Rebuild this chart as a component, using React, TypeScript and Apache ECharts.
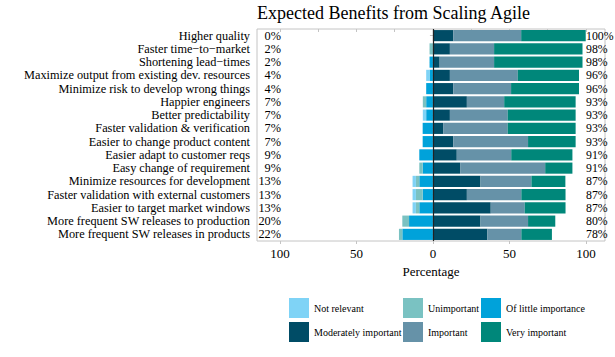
import React, { useEffect, useRef } from 'react';
import * as echarts from 'echarts';

const categories = [
  'Higher quality',
  'Faster time\u2212to\u2212market',
  'Shortening lead\u2212times',
  'Maximize output from existing dev. resources',
  'Minimize risk to develop wrong things',
  'Happier engineers',
  'Better predictability',
  'Faster validation & verification',
  'Easier to change product content',
  'Easier adapt to customer reqs',
  'Easy change of requirement',
  'Minimize resources for development',
  'Faster validation with external customers',
  'Easier to target market windows',
  'More frequent SW releases to production',
  'More frequent SW releases in products',
];

const notRelevant = [0, 0, 0, 2.2, 0, 0, 2.2, 0, 0, 0, 0, 2.2, 2.2, 2.2, 0, 0];
const unimportant = [0, 2.2, 0, 0, 0, 2.2, 0, 0, 0, 0, 2.2, 2.2, 4.4, 2.2, 4.4, 2.2];
const littleImportance = [0, 0, 2.2, 2.2, 4.4, 4.4, 4.4, 6.7, 6.7, 8.9, 6.7, 8.9, 6.7, 8.9, 15.6, 20.0];
const moderatelyImportant = [13.3, 11.1, 4.4, 11.1, 13.3, 22.2, 11.1, 6.7, 13.3, 15.6, 17.8, 31.1, 22.2, 37.8, 31.1, 35.6];
const important = [44.4, 28.9, 35.6, 44.4, 37.8, 24.4, 37.8, 42.2, 48.9, 35.6, 55.6, 33.3, 35.6, 22.2, 31.1, 22.2];
const veryImportant = [42.2, 57.8, 57.8, 40.0, 44.4, 46.7, 44.4, 44.4, 31.1, 40.0, 17.8, 22.2, 28.9, 26.7, 17.8, 20.0];

const leftLabels = ['0%', '2%', '2%', '4%', '4%', '7%', '7%', '7%', '7%', '9%', '9%', '13%', '13%', '13%', '20%', '22%'];
const rightLabels = ['100%', '98%', '98%', '96%', '96%', '93%', '93%', '93%', '93%', '91%', '91%', '87%', '87%', '87%', '80%', '78%'];

const xTicks = [-100, -50, 0, 50, 100];
const topTicks = [-100, -75, -50, -25, 25, 50, 75, 100];

const FONT = "'Liberation Serif', 'DejaVu Serif', serif";

const colors = {
  notRelevant: '#7FD3F6',
  unimportant: '#7AC2C2',
  littleImportance: '#00A2DA',
  moderatelyImportant: '#004C66',
  important: '#6692A8',
  veryImportant: '#00877A',
};

function buildOption() {
  const neg = (a: number[]) => a.map((v) => -v);
  const barCommon = {
    type: 'bar' as const,
    stack: 'total',
    barCategoryGap: '16%',
    xAxisIndex: 0,
    yAxisIndex: 0,
  };
  const legendCommon = {
    orient: 'vertical',
    top: 298,
    padding: 0,
    itemWidth: 20,
    itemHeight: 20,
    itemGap: 4,
    icon: 'rect',
    textStyle: { fontFamily: FONT, fontSize: 10, color: '#000' },
  };
  return {
    animation: false,
    backgroundColor: '#ffffff',
    textStyle: { fontFamily: FONT, color: '#000' },
    title: {
      text: 'Expected Benefits from Scaling Agile',
      left: 257,
      top: 4,
      padding: 0,
      textStyle: { fontFamily: FONT, fontSize: 18, fontWeight: 'normal', color: '#000' },
    },
    grid: {
      left: 257,
      top: 29,
      width: 348,
      height: 212,
      outerBoundsMode: 'none',
      containLabel: false,
      show: true,
      borderColor: '#c4c4c4',
      borderWidth: 1,
      backgroundColor: 'transparent',
    },
    legend: [
      { ...legendCommon, left: 289, data: ['Not relevant', 'Moderately important'] },
      { ...legendCommon, left: 403, data: ['Unimportant', 'Important'] },
      { ...legendCommon, left: 481, data: ['Of little importance', 'Very important'] },
    ],
    xAxis: [
      {
        type: 'value',
        min: -115,
        max: 112.5,
        position: 'bottom',
        name: 'Percentage',
        nameLocation: 'middle',
        nameGap: 23,
        nameTextStyle: { fontFamily: FONT, fontSize: 13, color: '#000' },
        axisLine: { show: false },
        axisTick: { show: true, length: 3, lineStyle: { color: '#c4c4c4' }, customValues: xTicks },
        axisLabel: {
          customValues: xTicks,
          fontFamily: FONT,
          fontSize: 13,
          color: '#000',
          margin: 6,
          formatter: (v: number) => String(Math.abs(v)),
        },
        splitLine: { show: false },
      },
      {
        type: 'value',
        min: -115,
        max: 112.5,
        position: 'top',
        axisLine: { show: false },
        axisTick: { show: true, inside: true, length: 3, lineStyle: { color: '#c4c4c4' }, customValues: topTicks },
        axisLabel: { show: false },
        splitLine: { show: false },
      },
    ],
    yAxis: [
      {
        type: 'category',
        data: categories,
        inverse: true,
        position: 'left',
        axisLine: { show: false },
        axisTick: { show: true, length: 3, alignWithLabel: true, lineStyle: { color: '#c4c4c4' } },
        axisLabel: { interval: 0, fontFamily: FONT, fontSize: 12.3, color: '#000', margin: 7 },
        splitLine: { show: false },
      },
      {
        type: 'category',
        data: leftLabels,
        inverse: true,
        position: 'left',
        offset: -24,
        axisLine: { show: false },
        axisTick: { show: false },
        axisLabel: { interval: 0, fontFamily: FONT, fontSize: 12.3, color: '#000', margin: 0 },
        splitLine: { show: false },
      },
      {
        type: 'category',
        data: rightLabels,
        inverse: true,
        position: 'right',
        offset: -19,
        axisLine: { show: false },
        axisTick: { show: false },
        axisLabel: { interval: 0, fontFamily: FONT, fontSize: 11.8, color: '#000', margin: 0 },
        splitLine: { show: false },
      },
    ],
    series: [
      { ...barCommon, name: 'Of little importance', data: neg(littleImportance), itemStyle: { color: colors.littleImportance } },
      { ...barCommon, name: 'Unimportant', data: neg(unimportant), itemStyle: { color: colors.unimportant } },
      { ...barCommon, name: 'Not relevant', data: neg(notRelevant), itemStyle: { color: colors.notRelevant } },
      {
        ...barCommon,
        name: 'Moderately important',
        data: moderatelyImportant,
        itemStyle: { color: colors.moderatelyImportant },
        markLine: {
          silent: true,
          symbol: 'none',
          label: { show: false },
          lineStyle: { color: '#222', type: 'solid', width: 1.2 },
          data: [{ xAxis: 0 }],
        },
      },
      { ...barCommon, name: 'Important', data: important, itemStyle: { color: colors.important } },
      { ...barCommon, name: 'Very important', data: veryImportant, itemStyle: { color: colors.veryImportant } },
    ],
  };
}

export default function App() {
  const ref = useRef<HTMLDivElement>(null);
  useEffect(() => {
    if (!ref.current) return;
    const chart = echarts.init(ref.current, null, { renderer: 'svg' });
    chart.setOption(buildOption() as any);
    return () => chart.dispose();
  }, []);
  return <div ref={ref} style={{ position: 'fixed', left: 0, top: 0, width: 615, height: 357 }} />;
}
